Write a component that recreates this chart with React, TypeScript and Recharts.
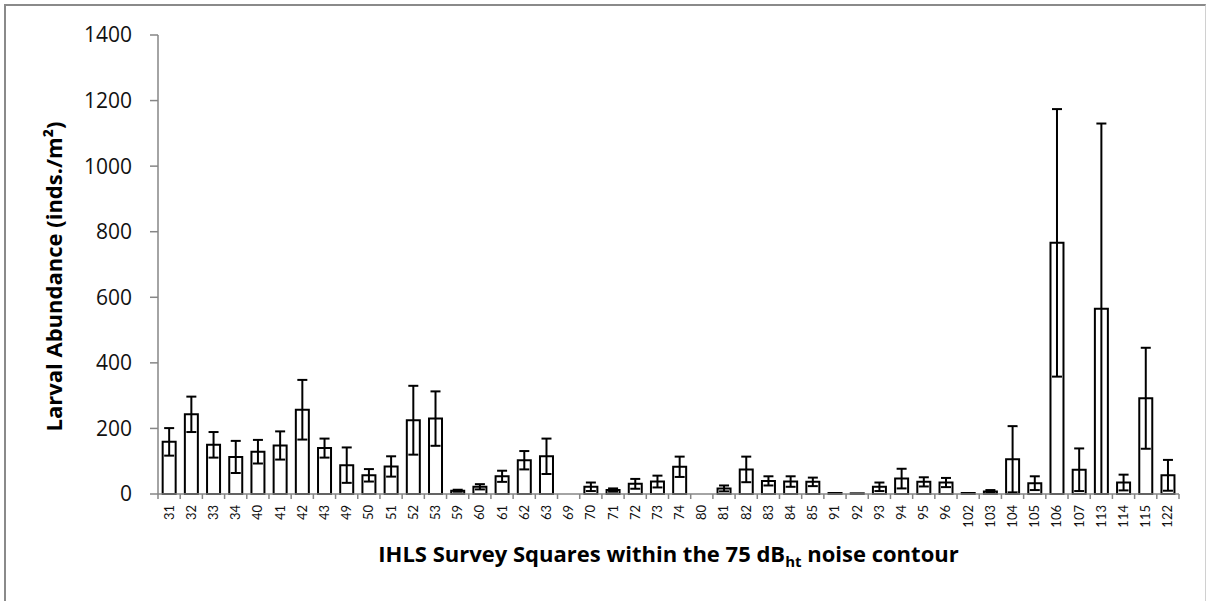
import React from 'react';
import { BarChart, Bar, XAxis, YAxis, ErrorBar, Label } from 'recharts';

const categories = ['31','32','33','34','40','41','42','43','49','50','51','52','53','59','60','61','62','63','69','70','71','72','73','74','80','81','82','83','84','85','91','92','93','94','95','96','102','103','104','105','106','107','113','114','115','122'];
const abundance = [159,243,150,113,129,148,257,140,88,57,84,225,230,10,22,54,103,115,0,22,12,31,38,83,0,17,75,40,38,37,3,2,22,47,37,35,3,8,106,33,766,74,565,35,292,57];
const stdError = [42,54,39,49,36,43,91,29,54,19,31,105,83,3,8,17,28,54,null,13,5,15,18,31,null,9,39,14,16,13,0,0,13,30,14,14,0,4,101,21,408,65,565,24,154,47];
const yTicks = [0,200,400,600,800,1000,1200,1400];

const data = categories.map((c, i) => ({ square: c, value: abundance[i], err: stdError[i] }));

const W = 1208, H = 601;
const M = { top: 35, right: 29, left: 78, bottom: 47 };
const YW = 80;
const XH = 60;
const PLOT_W = W - M.left - M.right - YW;
const STEP = PLOT_W / categories.length;
const FONT = 'Lato, "Open Sans", sans-serif';
const TFONT = '"Open Sans", Lato, sans-serif';
const AXIS = '#868686';

const XTick = (props: any) => {
  const { x, y, payload, index } = props;
  return (
    <g>
      <line x1={x - STEP / 2} x2={x - STEP / 2} y1={y} y2={y + 5} stroke={AXIS} strokeWidth={1.5} />
      {index === categories.length - 1 && (
        <line x1={x + STEP / 2} x2={x + STEP / 2} y1={y} y2={y + 5} stroke={AXIS} strokeWidth={1.5} />
      )}
      <text x={0} y={0} transform={`translate(${x + 4.5},${y + 11}) rotate(-90)`} textAnchor="end" fontSize={13} fontFamily={FONT} fill="#111">
        {payload.value}
      </text>
    </g>
  );
};

const XTitle = (props: any) => {
  const vb = props.viewBox || {};
  const cx = vb.x + vb.width / 2;
  return (
    <text x={cx} y={562} textAnchor="middle" fontSize={22} fontWeight="bold" fontFamily={TFONT} fill="#000">
      IHLS Survey Squares within the 75 dB
      <tspan fontSize={15} dy={5}>ht</tspan>
      <tspan dy={-5}> noise contour</tspan>
    </text>
  );
};

const YTitle = (props: any) => {
  const vb = props.viewBox || {};
  const cy = vb.y + vb.height / 2;
  return (
    <text x={0} y={0} transform={`translate(62,${cy + 12}) rotate(-90)`} textAnchor="middle" fontSize={22} fontWeight="bold" fontFamily={TFONT} fill="#000">
      Larval Abundance (inds./m²)
    </text>
  );
};

export default function App() {
  return (
    <div style={{ position: 'relative', width: W, height: H, background: '#fff' }}>
      <style>{'body{margin:0;}'}</style>
      <div style={{ position: 'absolute', left: 4, top: 4, width: 1202, height: 620, borderLeft: '2px solid #8a8a8a', borderTop: '2px solid #8a8a8a', borderRight: '1px solid #d0d0d0', boxSizing: 'border-box' }} />
      <div style={{ position: 'absolute', left: 0, top: 0 }}>
        <BarChart width={W} height={H} data={data} margin={M} barCategoryGap="21%">
          <XAxis
            dataKey="square"
            interval={0}
            height={XH}
            tickLine={false}
            tickSize={0}
            tickMargin={0}
            axisLine={{ stroke: AXIS, strokeWidth: 1.5 }}
            tick={<XTick />}
          >
            <Label content={<XTitle />} />
          </XAxis>
          <YAxis
            width={YW}
            domain={[0, 1400]}
            ticks={yTicks}
            interval={0}
            tickSize={8}
            tickMargin={18}
            axisLine={{ stroke: AXIS, strokeWidth: 1.5 }}
            tickLine={{ stroke: AXIS, strokeWidth: 1.5 }}
            tick={{ fontSize: 21, fontFamily: TFONT, fill: '#111' }}
          >
            <Label content={<YTitle />} />
          </YAxis>
          <Bar dataKey="value" fill="#fff" stroke="#000" strokeWidth={2} isAnimationActive={false}>
            <ErrorBar dataKey="err" width={5} stroke="#000" strokeWidth={2} direction="y" />
          </Bar>
        </BarChart>
      </div>
    </div>
  );
}
